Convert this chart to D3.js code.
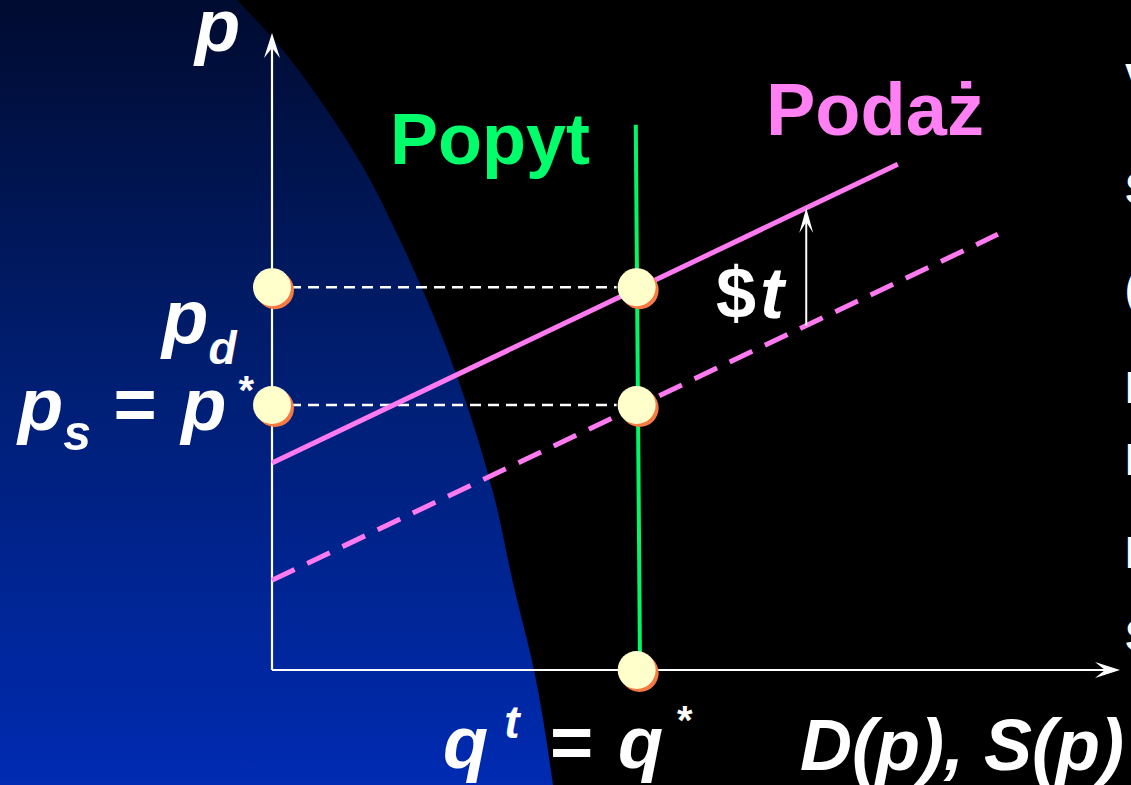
<!DOCTYPE html>
<meta charset="utf-8">
<style>
body { margin: 0; background: #000; }
text { font-family: "Liberation Sans", Arial, sans-serif; font-weight: bold; }
</style>
<body>
<script src="https://cdn.jsdelivr.net/npm/d3@7"></script>
<script>
    let width = 1131,
        height = 785;

    // price / quantity values (axis units 0..100)
    const qStar = 43,
          pD = 60.1,
          pS = 41.6;
    const demandLine = [[43.4, 0], [42.9, 85.6]];
    const supplyTax = [[0, 32.5], [73.8, 79.4]];
    const supplyNoTax = [[0, 14.1], [85.6, 68.4]];
    const eqPoints = [[0, pD], [0, pS], [qStar, pD], [qStar, pS], [qStar, 0]];
    const taxArrowQ = 63;
    const rightEdgeLetters = ["V", "S", "(", "I", "I", "I", "S"];

    // outline of the blue slide background (decoration, pixels)
    const blueEdge = [[237, 0], [277, 43], [320, 100], [363, 167], [400, 240],
                      [495, 500], [513, 583], [534, 670], [553, 785]];

    let svg = d3.select("body").append("svg")
        .attr("width", width)
        .attr("height", height);

    let x = d3.scaleLinear().domain([0, 100]).range([272, 1120]),
        y = d3.scaleLinear().domain([0, 100]).range([670, 33]);

    let defs = svg.append("defs");
    let grad = defs.append("linearGradient")
        .attr("id", "bg").attr("x1", 0).attr("y1", 0).attr("x2", 0).attr("y2", 1);
    grad.append("stop").attr("offset", "0%").attr("stop-color", "#000b30");
    grad.append("stop").attr("offset", "45%").attr("stop-color", "#001d6e");
    grad.append("stop").attr("offset", "100%").attr("stop-color", "#002bb2");

    svg.append("rect").attr("width", width).attr("height", height).attr("fill", "#000");

    let edge = d3.line().curve(d3.curveMonotoneY);
    svg.append("path")
        .attr("d", "M0,0L" + edge(blueEdge).slice(1) + "L0,785Z")
        .attr("fill", "url(#bg)");

    // axes
    let axisG = svg.append("g");
    axisG.append("line")
        .attr("x1", x(0)).attr("y1", y(0)).attr("x2", x(0)).attr("y2", y(100) + 8)
        .attr("stroke", "#fff").attr("stroke-width", 2.2);
    axisG.append("line")
        .attr("x1", x(0)).attr("y1", y(0)).attr("x2", x(100) - 8).attr("y2", y(0))
        .attr("stroke", "#fff").attr("stroke-width", 2.2);

    function arrowHead(tx, ty, dir) {
        // dir: "up" or "right"
        let pts = dir === "up"
            ? [[tx, ty], [tx + 8, ty + 25], [tx, ty + 15], [tx - 8, ty + 25]]
            : [[tx, ty], [tx - 25, ty + 8], [tx - 15, ty], [tx - 25, ty - 8]];
        svg.append("path").attr("d", "M" + pts.join("L") + "Z").attr("fill", "#fff");
    }
    arrowHead(x(0), y(100), "up");
    arrowHead(x(100), y(0), "right");

    // dashed guides to the price axis
    svg.append("g").selectAll("line")
        .data([pD, pS])
        .join("line")
            .attr("x1", x(0) + 18).attr("x2", x(qStar) - 20)
            .attr("y1", d => y(d)).attr("y2", d => y(d))
            .attr("stroke", "#fff").attr("stroke-width", 2.5)
            .attr("stroke-dasharray", "11,7");

    let line = d3.line().x(d => x(d[0])).y(d => y(d[1]));

    svg.append("path").datum(supplyNoTax)
        .attr("d", line).attr("fill", "none")
        .attr("stroke", "#ff7af0").attr("stroke-width", 5)
        .attr("stroke-dasharray", "25,14");

    svg.append("path").datum(supplyTax)
        .attr("d", line).attr("fill", "none")
        .attr("stroke", "#ff7af0").attr("stroke-width", 5);

    svg.append("path").datum(demandLine)
        .attr("d", line).attr("fill", "none")
        .attr("stroke", "#00f766").attr("stroke-width", 4);

    // tax arrow between the two supply curves
    let pLow = supplyNoTax[0][1] + (supplyNoTax[1][1] - supplyNoTax[0][1]) * taxArrowQ / supplyNoTax[1][0],
        pHigh = supplyTax[0][1] + (supplyTax[1][1] - supplyTax[0][1]) * taxArrowQ / supplyTax[1][0];
    svg.append("line")
        .attr("x1", x(taxArrowQ)).attr("x2", x(taxArrowQ))
        .attr("y1", y(pLow)).attr("y2", y(pHigh) + 10)
        .attr("stroke", "#fff").attr("stroke-width", 2);
    svg.append("path")
        .attr("d", `M${x(taxArrowQ)},${y(pHigh)}L${x(taxArrowQ) + 7},${y(pHigh) + 25}L${x(taxArrowQ)},${y(pHigh) + 14}L${x(taxArrowQ) - 7},${y(pHigh) + 25}Z`)
        .attr("fill", "#fff");

    // equilibrium dots
    let dots = svg.append("g").selectAll("g")
        .data(eqPoints)
        .join("g")
            .attr("transform", d => `translate(${x(d[0])},${y(d[1])})`);
    dots.append("circle").attr("cx", 3).attr("cy", 3).attr("r", 19).attr("fill", "#f77a42");
    dots.append("circle").attr("r", 19).attr("fill", "#ffffcc");

    // labels
    function label(tx, ty, size, fill, parts, italic) {
        let t = svg.append("text")
            .attr("x", tx).attr("y", ty)
            .attr("font-size", size)
            .attr("fill", fill);
        if (italic) t.attr("font-style", "italic");
        (parts || []).forEach(p => {
            let s = t.append("tspan").text(p.t);
            if (p.size) s.attr("font-size", p.size);
            if (p.dy) s.attr("dy", p.dy);
            if (p.dx) s.attr("dx", p.dx);
            if (p.style) s.attr("font-style", p.style);
        });
        return t;
    }

    label(195, 51, 74, "#fff", [{t: "p"}], true);
    label(390, 164, 72, "#00ff6a", [{t: "Popyt"}]);
    label(766, 135, 74, "#ff80f2", [{t: "Poda\u017c"}]);
    label(716, 318, 72, "#fff", [{t: "$", style: "normal"}, {t: "t", dx: 4, style: "italic"}], false);

    label(162, 343, 76, "#fff", [{t: "p", style: "italic"}, {t: "d", size: 46, dy: 21, style: "italic"}]);
    label(18, 430, 74, "#fff", [
        {t: "p", style: "italic"},
        {t: "s", size: 50, dy: 20, style: "italic"},
        {t: " = ", dy: -20, dx: 2},
        {t: "p", style: "italic", dx: 4},
        {t: "*", size: 40, dy: -26, dx: 12}
    ]);
    label(443, 768, 74, "#fff", [
        {t: "q", style: "italic"},
        {t: "t", size: 46, dy: -30, dx: 16, style: "italic"},
        {t: " = ", dy: 30, dx: 10},
        {t: "q", style: "italic", dx: 4},
        {t: "*", size: 40, dy: -34, dx: 14}
    ]);
    label(800, 770, 72, "#fff", [{t: "D(p), S(p)"}], true);

    // cut-off text column at the right edge
    svg.append("g").selectAll("text")
        .data(rightEdgeLetters)
        .join("text")
            .attr("x", 1125)
            .attr("y", (d, i) => [95, 204, 304, 403, 475, 568, 651][i])
            .attr("font-size", 44)
            .attr("fill", "#fff")
            .text(d => d);
</script>
</body>
